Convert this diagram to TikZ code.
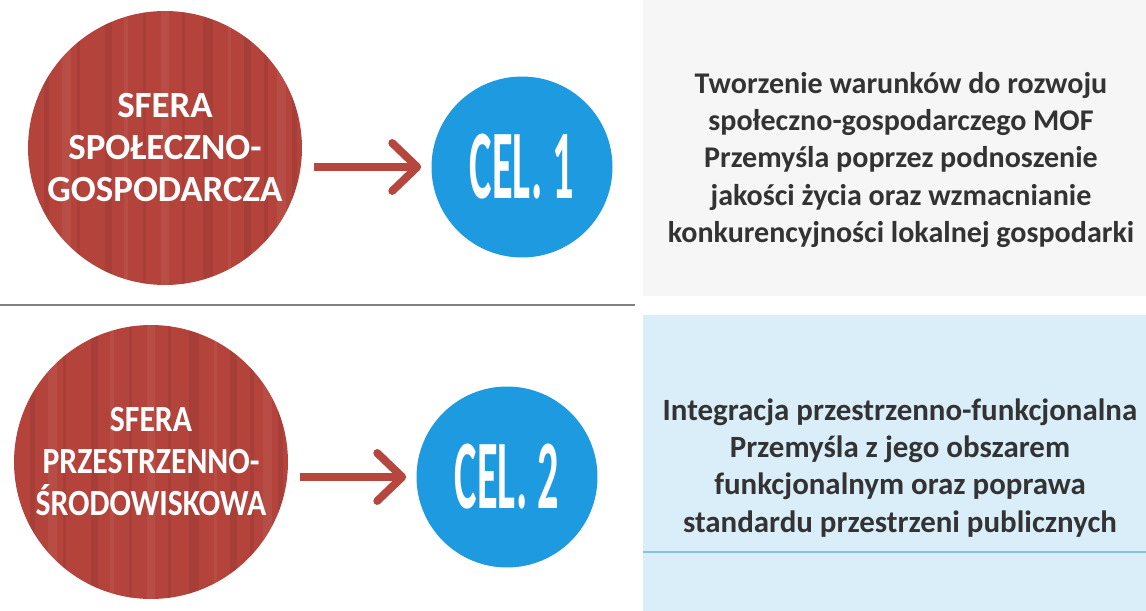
\documentclass[tikz,border=0pt]{standalone}
\usepackage{fontspec}
\setmainfont{Carlito}
\newfontfamily\sferafont[FakeStretch=0.86]{Carlito}
\newfontfamily\celfont[FakeStretch=0.43]{Carlito}
\usetikzlibrary{arrows.meta,positioning}

\definecolor{sferared}{HTML}{B3433B}
\definecolor{celblue}{HTML}{1E9BE0}
\definecolor{arrowred}{HTML}{B5473F}
\definecolor{panelgray}{HTML}{F6F6F6}
\definecolor{panelblue}{HTML}{DAEEF9}
\definecolor{lineblue}{HTML}{86C1E6}
\definecolor{goaltext}{HTML}{333333}

\tikzset{
  sfera/.style={circle, fill=sferared, text=white, minimum size=5.48cm,
    inner sep=0pt, align=center, font=\bfseries\fontsize{21}{23.9}\selectfont,
    path picture={
      \foreach \dx/\w/\s in {-121/5/dark,-103/9/light,-88/3/dark,-60/7/dark,-41/4/light,
                             -22/3/dark,-4/8/light,17/3/dark,38/10/dark,63/3/light,
                             79/7/dark,99/4/dark,112/9/light,127/5/dark}
        \fill[stripe \s] (path picture bounding box.center) ++(\dx,-140) rectangle ++(\w,280);
    }},
  stripe dark/.style={fill=sferared!70!black, opacity=0.22},
  stripe light/.style={fill=sferared!70!white, opacity=0.18},
  cel/.style={circle, fill=celblue, text=white, minimum size=3.62cm,
    inner sep=0pt, font=\celfont\bfseries\fontsize{56}{60}\selectfont},
  goal/.style={align=center, text=goaltext,
    font=\bfseries\fontsize{17.6}{21.1}\selectfont},
  goal arrow/.style={arrowred, line width=4.5pt, shorten <=0.24cm, shorten >=0.2cm,
    -{Straight Barb[length=0.5cm,width=0.96cm,round]}},
}

\begin{document}
\begin{tikzpicture}[x=0.02cm,y=-0.02cm]
  \useasboundingbox[fill=white] (0,0) rectangle (1146,611);

  % panels on the right
  \fill[panelgray] (643,0) rectangle (1146,296);
  \fill[panelblue] (643,315) rectangle (1146,611);
  \draw[lineblue, line width=1.5pt] (643,552) -- (1146,552);
  \draw[gray, line width=1pt] (0,305) -- (635,305);

  % first row
  \node[sfera] (sfera1) at (165,148) {SFERA\\SPOŁECZNO-\\GOSPODARCZA};
  \node[cel] (cel1) at (522,167) {CEL. 1};
  \draw[goal arrow] (sfera1.east |- cel1) -- (cel1);
  \node[goal, font=\bfseries\fontsize{17.1}{21.1}\selectfont] (goal1) at (901,160)
    {Tworzenie warunków do rozwoju\\
    społeczno-gospodarczego MOF\\Przemyśla poprzez podnoszenie\\
    jakości życia oraz wzmacnianie\\konkurencyjności lokalnej gospodarki};

  % second row
  \node[sfera, font=\sferafont\bfseries\fontsize{21}{23.9}\selectfont] (sfera2) at (151,462)
    {SFERA\\PRZESTRZENNO-\\ŚRODOWISKOWA};
  \node[cel] (cel2) at (507,477) {CEL. 2};
  \draw[goal arrow] (sfera2.east |- cel2) -- (cel2);
  \node[goal] (goal2) at (900,468) {Integracja przestrzenno-funkcjonalna\\
    Przemyśla z jego obszarem\\funkcjonalnym oraz poprawa\\
    standardu przestrzeni publicznych};
\end{tikzpicture}
\end{document}
